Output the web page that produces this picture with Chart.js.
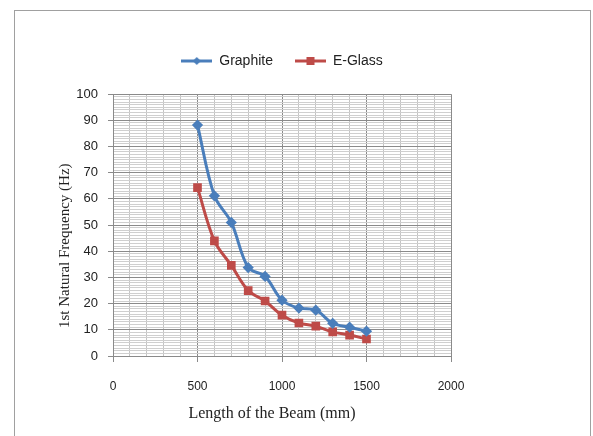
<!DOCTYPE html>
<html>
<head>
<meta charset="utf-8">
<script src="https://cdn.jsdelivr.net/npm/chart.js@4"></script>
<style>
  html, body { margin: 0; padding: 0; background: #fff; }
  #wrap { position: relative; width: 593px; height: 436px; overflow: hidden; }
  #frame { position: absolute; left: 14px; top: 10px; width: 577px; height: 460px; border: 1px solid #a0a0a0; box-sizing: border-box; }
  canvas { position: absolute; left: 0; top: 0; }
</style>
</head>
<body>
<div id="wrap">
  <div id="frame"></div>
  <canvas id="c" width="593" height="436"></canvas>
</div>
<script>
const lengths = [500, 600, 700, 800, 900, 1000, 1100, 1200, 1300, 1400, 1500];
const graphite = [88.2, 61.2, 51.0, 33.8, 30.4, 21.3, 18.3, 17.5, 12.5, 11.0, 9.5];
const eglass = [64.3, 44.0, 34.6, 25.0, 21.0, 15.6, 12.6, 11.4, 9.2, 8.0, 6.5];
const xTickLabels = [0, 500, 1000, 1500, 2000];
const yTickLabels = [0, 10, 20, 30, 40, 50, 60, 70, 80, 90, 100];

const BLUE = '#4A7EBB';
const RED = '#BE4B48';

function legendIcon(color, shape) {
  const c = document.createElement('canvas');
  c.width = 31; c.height = 10;
  const g = c.getContext('2d');
  g.strokeStyle = color; g.lineWidth = 3;
  g.beginPath(); g.moveTo(0, 5); g.lineTo(31, 5); g.stroke();
  g.fillStyle = color;
  if (shape === 'diamond') {
    g.beginPath(); g.moveTo(15.5, 1); g.lineTo(19.5, 5); g.lineTo(15.5, 9); g.lineTo(11.5, 5); g.closePath(); g.fill();
  } else {
    g.fillRect(11.5, 1, 8, 8);
  }
  return c;
}
const icons = [legendIcon(BLUE, 'diamond'), legendIcon(RED, 'square')];

const toPts = (arr) => lengths.map((x, i) => ({x: x, y: arr[i]}));

new Chart(document.getElementById('c'), {
  type: 'line',
  data: {
    datasets: [
      { label: 'Graphite', data: toPts(graphite), borderColor: BLUE, backgroundColor: BLUE,
        borderWidth: 3, pointStyle: 'rectRot', pointRadius: 3.5, tension: 0.35 },
      { label: 'E-Glass', data: toPts(eglass), borderColor: RED, backgroundColor: RED,
        borderWidth: 3, pointStyle: 'rect', pointRadius: 4, tension: 0.35 }
    ]
  },
  options: {
    responsive: false,
    animation: false,
    layout: { padding: { left: 0, right: 142, top: 32, bottom: 0 } },
    plugins: {
      tooltip: { enabled: false },
      title: {
        display: true, text: ' ', weight: 500, fullSize: false,
        font: { size: 1 }, padding: { top: 0, bottom: 15 }
      },
      legend: {
        position: 'top',
        fullSize: false,
        labels: {
          usePointStyle: true,
          pointStyleWidth: 31,
          boxHeight: 10,
          padding: 22,
          color: '#222',
          font: { family: 'Liberation Sans', size: 14 },
          generateLabels: (chart) => chart.data.datasets.map((d, i) => ({
            text: d.label, pointStyle: icons[i], fillStyle: d.borderColor,
            strokeStyle: d.borderColor, lineWidth: 0, hidden: false, datasetIndex: i, fontColor: '#222'
          }))
        }
      }
    },
    scales: {
      x: {
        type: 'linear', min: 0, max: 2000,
        afterFit: (s) => { s.height = 80; },
        ticks: {
          stepSize: 100, autoSkip: false, maxRotation: 0, padding: 17,
          color: '#222', font: { family: 'Liberation Sans', size: 12 },
          callback: (v) => xTickLabels.includes(v) ? String(v) : ''
        },
        grid: {
          lineWidth: 1,
          tickLength: 6,
          color: (ctx) => (ctx.tick && ctx.tick.value % 500 === 0) ? '#8a8a8a' : '#c4c4c4',
          tickColor: (ctx) => (ctx.tick && ctx.tick.value % 500 === 0) ? '#8a8a8a' : 'rgba(0,0,0,0)'
        },
        border: { color: '#8a8a8a', width: 1 },
        title: {
          display: true, text: 'Length of the Beam (mm)     ', color: '#222',
          font: { family: 'Liberation Serif', size: 16 }, padding: { top: 0, bottom: 13 }
        }
      },
      y: {
        min: 0, max: 100,
        afterFit: (s) => { s.width = 113; },
        ticks: {
          stepSize: 1, autoSkip: false, padding: 10,
          color: '#222', font: { family: 'Liberation Sans', size: 13 },
          callback: (v) => yTickLabels.includes(v) ? String(v) : ''
        },
        grid: {
          lineWidth: 1,
          tickLength: 5,
          color: (ctx) => (ctx.tick && ctx.tick.value % 10 === 0) ? '#8a8a8a' : '#cfcfcf',
          tickColor: (ctx) => (ctx.tick && ctx.tick.value % 10 === 0) ? '#8a8a8a' : 'rgba(0,0,0,0)'
        },
        border: { color: '#8a8a8a', width: 1 },
        title: {
          display: true, text: '1st Natural Frequency (Hz)           ', color: '#222',
          font: { family: 'Liberation Serif', size: 15 }, padding: { top: 56, bottom: 0 }
        }
      }
    }
  }
});
</script>
</body>
</html>
